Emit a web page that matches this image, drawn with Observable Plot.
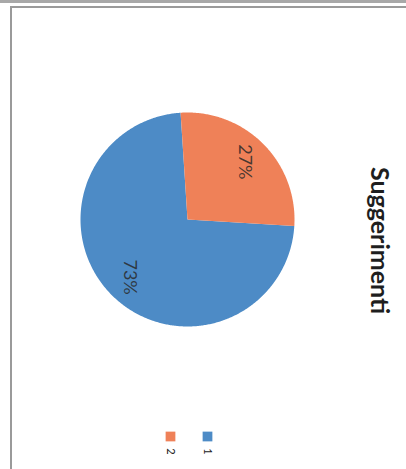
<!DOCTYPE html>
<html><head><meta charset="utf-8">
<script src="https://cdn.jsdelivr.net/npm/d3@7"></script>
<script src="https://cdn.jsdelivr.net/npm/@observablehq/plot@0.6"></script>
<style>
html,body{margin:0;padding:0;background:#fff;}
#wrap{position:relative;width:406px;height:469px;overflow:hidden;}
#wrap svg{position:absolute;left:0;top:0;}
#topband{position:absolute;left:0;top:0;width:406px;height:3px;background:#a8a8a8;}
#topline{position:absolute;left:10px;top:6px;width:396px;height:2px;background:#9a9a9a;}
#leftline{position:absolute;left:10px;top:6px;width:2px;height:463px;background:#9a9a9a;}
</style></head><body><div id="wrap"></div>
<script>
// ---- data ----
const categories = ["1", "2"];
const values = [73, 27];
const colors = ["#4d8bc6", "#ef8158"];
const title = "Suggerimenti";

// ---- layout (pixel space, identity projection) ----
const W = 406, H = 469;
const cx = 187, cy = 219, R = 107;
const start = 93.5 * Math.PI / 180;
const pieGen = d3.pie().sort(null).startAngle(start).endAngle(start + 2 * Math.PI);
const arcs = pieGen(values);
const pt = (a, r) => [cx + r * Math.sin(a), cy - r * Math.cos(a)];

const slices = arcs.map((a, i) => {
  const n = Math.max(8, Math.ceil((a.endAngle - a.startAngle) / 0.01));
  const ring = [[cx, cy]];
  for (let k = 0; k <= n; k++) ring.push(pt(a.startAngle + (a.endAngle - a.startAngle) * k / n, R));
  ring.push([cx, cy]);
  return {type: "Feature", properties: {category: categories[i]}, geometry: {type: "Polygon", coordinates: [ring]}};
});

const sliceLabels = arcs.map((a, i) => {
  const [x, y] = pt((a.startAngle + a.endAngle) / 2, R * 0.76);
  return {x, y, text: values[i] + "%"};
});

const legend = categories.map((c, i) => ({x: 207 - i * 37, c}));

const identity = d3.geoTransform({point(x, y) { this.stream.point(x, y); }});

const chart = Plot.plot({
  width: W, height: H,
  margin: 0,
  projection: identity,
  color: {domain: categories, range: colors},
  style: {fontFamily: "Lato, 'Open Sans', sans-serif", background: "transparent"},
  marks: [
    Plot.geo(slices, {fill: d => d.properties.category, stroke: "none"}),
    Plot.text(sliceLabels, {x: "x", y: "y", text: "text", rotate: 90, fontSize: 18, fill: "#2a2a2a", fillOpacity: 0.85}),
    Plot.text([title], {x: () => 378, y: () => 240, text: d => d, rotate: 90, fontSize: 25, fontWeight: "bold", fill: "#1e1e1e"}),
    Plot.dot(legend, {x: "x", y: () => 436, fill: "c", symbol: "square", r: 5.5}),
    Plot.text(legend, {x: "x", y: () => 451, text: "c", rotate: 90, fontSize: 11, fill: "#222"})
  ]
});
const wrap = document.getElementById("wrap");
wrap.appendChild(chart);
["topband", "topline", "leftline"].forEach(id => { const d = document.createElement("div"); d.id = id; wrap.appendChild(d); });
</script></body></html>
